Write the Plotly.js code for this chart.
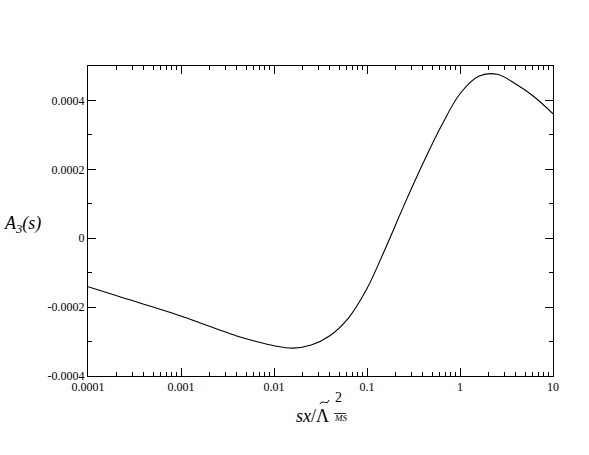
<!DOCTYPE html>
<html>
<head>
<meta charset="utf-8">
<script src="https://cdn.plot.ly/plotly-3.0.1.min.js"></script>
<style>
  html, body { margin: 0; padding: 0; background: #fff; }
  #chart { width: 589px; height: 455px; }
</style>
</head>
<body>
<div id="chart"></div>
<script>
// values, every 0.2 decade
const sx = [1e-4, 1.585e-4, 2.512e-4, 3.981e-4, 6.310e-4,
            1e-3, 1.585e-3, 2.512e-3, 3.981e-3, 6.310e-3,
            1e-2, 1.585e-2, 2.512e-2, 3.981e-2, 6.310e-2,
            0.1, 0.1585, 0.2512, 0.3981, 0.6310,
            1, 1.585, 2.512, 3.981, 6.310, 10];
const a3 = [-1.407e-4, -1.578e-4, -1.747e-4, -1.916e-4, -2.084e-4,
            -2.259e-4, -2.451e-4, -2.648e-4, -2.837e-4, -2.991e-4,
            -3.120e-4, -3.190e-4, -3.100e-4, -2.830e-4, -2.317e-4,
            -1.459e-4, -2.82e-5, 9.68e-5, 2.160e-4, 3.265e-4,
            4.195e-4, 4.704e-4, 4.759e-4, 4.477e-4, 4.099e-4, 3.613e-4];

const xTickVals = [1e-4, 1e-3, 1e-2, 0.1, 1, 10];
const xTickText = ['0.0001', '0.001', '0.01', '0.1', '1', '10'];
const yTickVals = [-0.0004, -0.0002, 0, 0.0002, 0.0004];
const yTickText = ['-0.0004', '-0.0002', '0', '0.0002', '0.0004'];
const minorDigits = [2, 3, 4, 5, 6, 7, 8, 9];

// minor ticks 2..9 in each decade
const xMinor = [];
xTickVals.slice(0, -1).forEach(d => minorDigits.forEach(m => xMinor.push(d * m)));

const serif = '"Liberation Serif", "Times New Roman", Times, serif';

const trace = {
    x: sx,
    y: a3,
    type: 'scatter',
    mode: 'lines',
    line: { color: '#000', width: 1.1, shape: 'spline', smoothing: 1 },
    hoverinfo: 'none'
};

const axisStyle = {
    ticks: 'inside',
    ticklen: 8,
    tickwidth: 1,
    tickcolor: '#000',
    showline: true,
    linecolor: '#000',
    linewidth: 1,
    mirror: 'ticks',
    showgrid: false,
    zeroline: false,
    tickfont: { family: serif, size: 12, color: '#000' }
};

const layout = {
    width: 589,
    height: 455,
    margin: { l: 88, r: 36, t: 66, b: 79 },
    paper_bgcolor: '#fff',
    plot_bgcolor: '#fff',
    showlegend: false,
    font: { family: serif, size: 12, color: '#000' },
    xaxis: Object.assign({}, axisStyle, {
        type: 'log',
        range: [-4, 1],
        tickvals: xTickVals,
        ticktext: xTickText,
        minor: { tickvals: xMinor, ticks: 'inside', ticklen: 4, tickcolor: '#000', showgrid: false }
    }),
    yaxis: Object.assign({}, axisStyle, {
        range: [-0.0004, 0.0005],
        tickvals: yTickVals,
        ticktext: yTickText,
        minor: { dtick: 0.0001, ticks: 'inside', ticklen: 4, tickcolor: '#000', showgrid: false }
    }),
    shapes: [
        // tilde over the Lambda
        { type: 'path', xref: 'paper', yref: 'paper',
          path: 'M 0.4989,-0.0903 C 0.5032,-0.0742 0.5140,-0.0968 0.5183,-0.0774',
          line: { color: '#000', width: 1 } },
        // bar over MS
        { type: 'line', xref: 'paper', yref: 'paper', x0: 0.529, x1: 0.555, y0: -0.121, y1: -0.121,
          line: { color: '#000', width: 0.8 } }
    ],
    annotations: [
        // y title, horizontal
        { xref: 'paper', yref: 'paper', x: -0.1415, y: 0.490, xanchor: 'center', yanchor: 'middle',
          text: '<i>A<sub>3</sub>(s)</i>', showarrow: false, font: { family: serif, size: 18 } },
        // x title pieces
        { xref: 'paper', yref: 'paper', x: 0.5226, y: -0.129, xanchor: 'right', yanchor: 'middle',
          text: '<i>sx</i>/Λ', showarrow: false, font: { family: serif, size: 18 } },
        { xref: 'paper', yref: 'paper', x: 0.539, y: -0.068, xanchor: 'center', yanchor: 'middle',
          text: '2', showarrow: false, font: { family: serif, size: 14 } },
        { xref: 'paper', yref: 'paper', x: 0.542, y: -0.1355, xanchor: 'center', yanchor: 'middle',
          text: '<i>MS</i>', showarrow: false, font: { family: serif, size: 9 } }
    ]
};

Plotly.newPlot('chart', [trace], layout, { staticPlot: true });
</script>
</body>
</html>
